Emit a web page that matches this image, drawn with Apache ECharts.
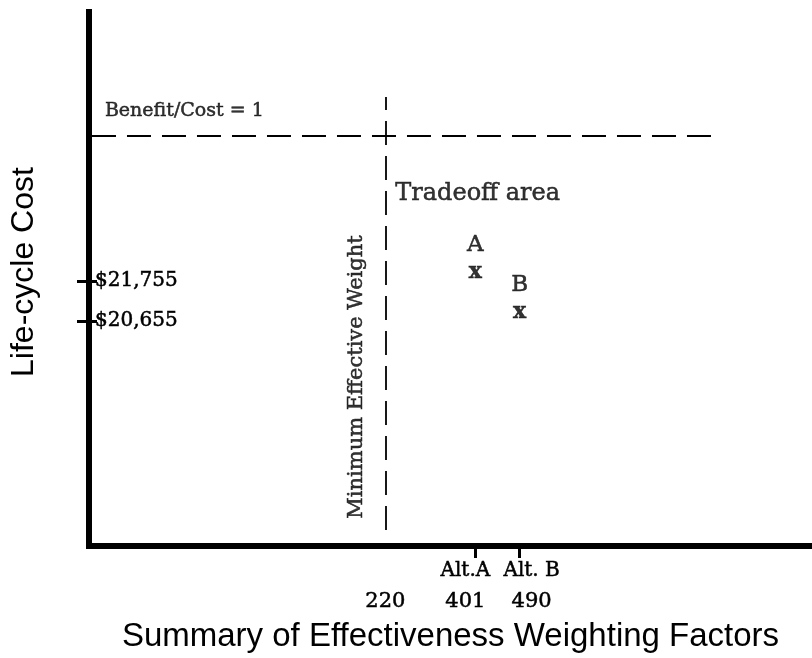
<!DOCTYPE html>
<html>
<head>
<meta charset="utf-8">
<script src="https://cdn.jsdelivr.net/npm/echarts@6/dist/echarts.min.js"></script>
<style>html,body{margin:0;padding:0;background:#fff}#c{width:812px;height:658px}</style>
</head>
<body>
<div id="c"></div>
<script>
// ---- data ----
const alternatives = ['A', 'B'];
const altEffectiveness = [401, 490];
const altCost = [21755, 20655];
const altTickNames = ['Alt.A', 'Alt. B'];
const minEffectiveWeight = 220;
const benefitCostOneCost = 25740;
const costTicks = [21755, 20655];

const SERIF = 'DejaVu Serif';
const SANS = 'Liberation Sans';
const INK = {color: '#000', textBorderColor: '#000', textBorderWidth: 0.5};

const chart = echarts.init(document.getElementById('c'), null, {renderer: 'canvas'});

const xMin = -376, xMax = 1078, yMin = 14467.5, yMax = 29152.5;

function fmtCost(v) { return '$' + Math.round(v).toLocaleString('en-US'); }

function rs(size, pad) {
  return Object.assign({fontFamily: SERIF, fontSize: size, lineHeight: 31}, INK, pad ? {padding: pad} : {});
}
// label styles: the schematic spreads the alternative labels apart a little
const richLabels = {
  a0: rs(20), n0: rs(21),
  a1: rs(20, [0, 20, 0, 0]), n1: rs(21, [0, 20, 0, 0]),
  a2: rs(20, [0, 0, 0, 24]), n2: rs(21, [0, 0, 0, 24])
};

function xLabel(v) {
  const i = altEffectiveness.indexOf(v);
  const k = i + 1;
  const top = i >= 0 ? altTickNames[i] : ' ';
  return '{a' + k + '|' + top + '}\n{n' + k + '|' + v + '}';
}

function tickAxis(values, labelValues, showLine, extra) {
  return Object.assign({
    type: 'value', min: xMin, max: xMax, position: 'bottom',
    axisLine: {show: showLine, onZero: false, lineStyle: {color: '#000', width: 6, cap: 'square'}},
    axisTick: {show: true, customValues: values, length: 12, lineStyle: {color: '#000', width: 3}},
    axisLabel: {show: true, customValues: labelValues, margin: 9, color: '#000', hideOverlap: false,
      formatter: xLabel, rich: richLabels},
    splitLine: {show: false}
  }, extra || {});
}

const option = {
  animation: false,
  backgroundColor: '#fff',
  grid: {left: 85, right: 0, top: 12, bottom: 112},
  xAxis: [
    tickAxis([altEffectiveness[0]], [minEffectiveWeight, altEffectiveness[0]], true, {
      name: 'Summary of Effectiveness Weighting Factors',
      nameLocation: 'middle', nameGap: 74,
      nameTextStyle: {fontFamily: SANS, fontSize: 33, color: '#000'}
    }),
    tickAxis([altEffectiveness[1]], [altEffectiveness[1]], false)
  ],
  yAxis: [{
    type: 'value', min: yMin, max: yMax, position: 'left',
    name: 'Life-cycle Cost', nameLocation: 'middle', nameGap: 49, nameRotate: 90,
    nameTextStyle: {fontFamily: SANS, fontSize: 32, color: '#000', padding: [0, 0, 0, 14]},
    axisLine: {show: true, onZero: false, lineStyle: {color: '#000', width: 6, cap: 'square'}},
    axisTick: {show: true, customValues: costTicks, length: 12, lineStyle: {color: '#000', width: 3}},
    axisLabel: Object.assign({show: true, inside: true, customValues: costTicks, margin: 6, formatter: fmtCost,
      fontFamily: SERIF, fontSize: 20, hideOverlap: false}, INK),
    splitLine: {show: false}
  }, {
    type: 'value', min: yMin, max: yMax, position: 'left',
    axisLine: {show: false, onZero: false},
    axisTick: {show: true, inside: true, customValues: costTicks, length: 8, lineStyle: {color: '#000', width: 3}},
    axisLabel: {show: false},
    splitLine: {show: false}
  }],
  series: [{
    type: 'scatter',
    name: 'Alternatives',
    symbolSize: 1,
    itemStyle: {color: 'transparent'},
    data: alternatives.map((n, i) => ({name: n, value: [altEffectiveness[i], altCost[i]]})),
    label: {
      show: true, position: 'inside', align: 'center', verticalAlign: 'bottom',
      formatter: p => '{l|' + p.name + '}\n{x|x}',
      rich: {
        l: Object.assign({fontFamily: SERIF, fontSize: 23, lineHeight: 35}, INK),
        x: Object.assign({fontFamily: SERIF, fontSize: 22, fontWeight: 'bold', lineHeight: 18}, INK)
      }
    },
    markLine: {
      silent: true, symbol: 'none', label: {show: false},
      lineStyle: {color: '#000', width: 1.8, type: [24, 11]},
      data: [
        [{coord: [-370, benefitCostOneCost]}, {coord: [894, benefitCostOneCost]}],
        [{coord: [minEffectiveWeight, 14907]}, {coord: [minEffectiveWeight, 26815]}]
      ]
    }
  }, {
    type: 'scatter',
    name: 'notes',
    symbolSize: 1,
    itemStyle: {color: 'transparent'},
    silent: true,
    data: [
      {value: [-344, 26430], label: {formatter: 'Benefit/Cost = 1', align: 'left', fontSize: 19}},
      {value: [minEffectiveWeight + 20, 24150], label: {formatter: 'Tradeoff area', align: 'left', fontSize: 24}},
      {value: [minEffectiveWeight - 58, 19115], label: {formatter: 'Minimum Effective Weight', align: 'center', fontSize: 21, rotate: 90}}
    ],
    label: Object.assign({show: true, position: 'inside', verticalAlign: 'middle', fontFamily: SERIF}, INK)
  }]
};
chart.setOption(option);
</script>
</body>
</html>
